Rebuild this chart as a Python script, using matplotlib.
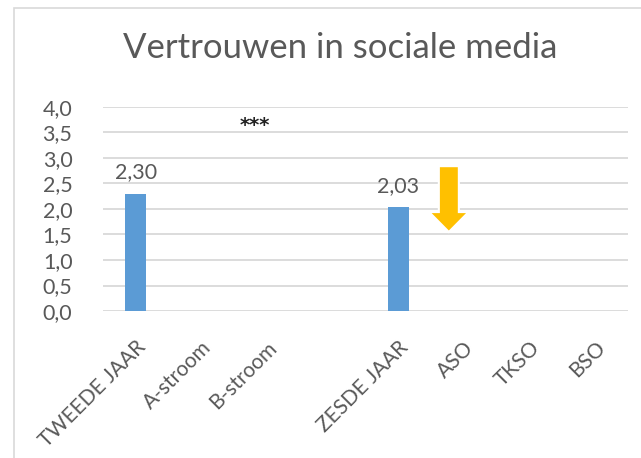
import numpy as np
import matplotlib.pyplot as plt
from matplotlib.patches import Rectangle

plt.rcParams['font.family'] = ['Lato', 'DejaVu Sans']

# data
categories = ["TWEEDE JAAR", "A-stroom", "B-stroom", "", "ZESDE JAAR", "ASO", "TKSO", "BSO"]
values = [2.30, np.nan, np.nan, np.nan, 2.03, np.nan, np.nan, np.nan]
yticks = [0.0, 0.5, 1.0, 1.5, 2.0, 2.5, 3.0, 3.5, 4.0]

# annotations
stars_pos = (1.82, 3.64)
arrow_x = 4.77
arrow_top = 2.84
arrow_tip = 1.55

grey = "#595959"

fig = plt.figure(figsize=(6.41, 4.58), dpi=100)
# chart frame
fig.patches.append(Rectangle((14/641, -0.1), 1.2, 1 - 8/458 + 0.1, transform=fig.transFigure,
                             fill=False, edgecolor="#D9D9D9", linewidth=1.2))
ax = fig.add_axes([103/641, 1 - 311/458, 525/641, 204/458])

x = np.arange(len(categories))
ax.bar(x, values, width=0.32, color="#5B9BD5", zorder=2)
for xi, v in zip(x, values):
    if not np.isnan(v):
        ax.text(xi, v + 0.22, f"{v:.2f}".replace(".", ","), ha="center", va="bottom",
                fontsize=15.5, color=grey)

ax.set_xlim(-0.5, len(categories) - 0.5)
ax.set_ylim(0, 4.0)
ax.set_yticks(yticks)
ax.set_yticklabels([f"{t:.1f}".replace(".", ",") for t in yticks], fontsize=15.5, color=grey)
ax.set_xticks(x)
ax.set_xticklabels(categories, rotation=45, ha="right", rotation_mode="anchor",
                   fontsize=15, color=grey)
ax.tick_params(axis="x", length=0, pad=19)
ax.tick_params(axis="y", length=0, pad=22)
ax.yaxis.grid(True, color="#D9D9D9", linewidth=1.3, zorder=0)
ax.set_axisbelow(True)
for s in ax.spines.values():
    s.set_visible(False)

ax.text(stars_pos[0], stars_pos[1], "***", ha="center", va="center", fontsize=14,
        family="DejaVu Sans", fontweight="bold", color="#222222")

head_len = 0.39
ax.arrow(arrow_x, arrow_top, 0, -(arrow_top - arrow_tip - head_len), width=0.305,
         head_width=0.6, head_length=head_len, length_includes_head=False,
         facecolor="#FFC000", edgecolor="white", linewidth=1.5, zorder=3)

fig.text(340/641, 1 - 48/458, "Vertrouwen in sociale media", ha="center", va="center",
         fontsize=25, color=grey)

fig.savefig("out.png", dpi=100)
